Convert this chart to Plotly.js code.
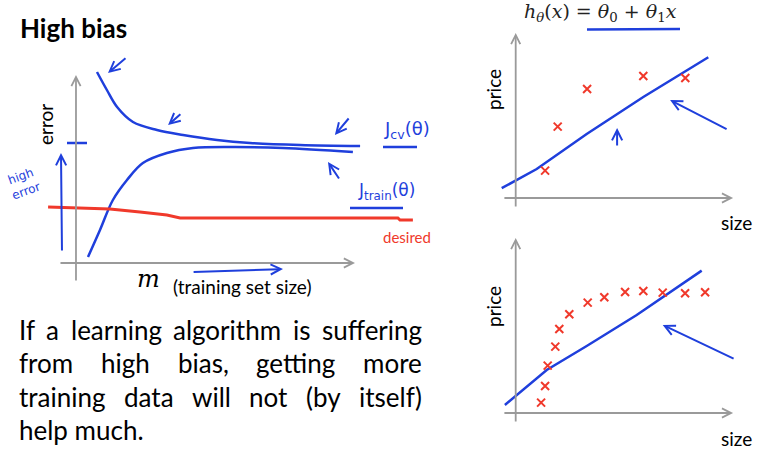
<!DOCTYPE html>
<html>
<head>
<meta charset="utf-8">
<script src="https://cdn.plot.ly/plotly-3.0.1.min.js"></script>
<style>
  html, body { margin:0; padding:0; background:#fff; }
  #chart { width:765px; height:451px; }
</style>
</head>
<body>
<div id="chart"></div>
<script>

/* ==========================================
   DATA
========================================== */

// learning curves (m = training set size, error)
const cvM       = [7, 10.3, 13.7, 19, 27, 35.7, 47, 58, 74.7, 94.7];
const cvErr     = [95.5, 86.5, 78, 70.5, 66.5, 64, 61.5, 60, 59, 58.5];
const trainM    = [4, 8, 12.3, 17, 22.3, 30.3, 39, 52.3, 69, 92.3];
const trainErr  = [3, 16.5, 31.5, 41.5, 50, 55, 57.5, 58, 57.5, 55.5];
const desiredM   = [-9.3, 0.3, 11.3, 21.3, 30.3, 34.7, 107.3, 108, 112.3];
const desiredErr = [28, 27.5, 27, 25.5, 24, 22.5, 22.5, 21.5, 21.5];

// few training examples
const sizeA     = [1.47, 2.1, 3.57, 6.38, 8.48];
const priceA    = [1.37, 3.57, 5.45, 6.1, 6.0];
const fitSizeA  = [-0.7, 1.05, 3.55, 6.38, 9.63];
const fitPriceA = [0.49, 1.45, 3.2, 5.05, 7.04];

// many training examples
const sizeB     = [1.27, 1.47, 1.6, 1.98, 2.18, 2.68, 3.6, 4.43, 5.47, 6.38, 7.35, 8.47, 9.47];
const priceB    = [0.52, 1.35, 2.37, 3.32, 4.2, 4.94, 5.52, 5.79, 6.05, 6.1, 6.02, 5.99, 6.04];
const fitSizeB  = [-0.54, 1.55, 3.55, 6.05, 9.3];
const fitPriceB = [0.4, 2.15, 3.35, 4.9, 7.12];

const paragraph = [
    "If a learning algorithm is suffering",
    "from high bias, getting more",
    "training data will not (by itself)",
    "help much."
];

/* ==========================================
   STYLE
========================================== */

const W = 765, H = 451;
const BLUE = "#1f3fdc";
const RED = "#f0392b";
const GRAY = "#9a9a9a";
const FONT = "Lato, 'Open Sans', sans-serif";
const HAND = "DejaVu Sans";

function px(x){ return x / W; }
function py(y){ return 1 - y / H; }

/* ==========================================
   TRACES
========================================== */

const traces = [
    { x:cvM, y:cvErr, xaxis:"x", yaxis:"y", mode:"lines",
      line:{color:BLUE, width:2.5, shape:"spline", smoothing:1} },
    { x:trainM, y:trainErr, xaxis:"x", yaxis:"y", mode:"lines",
      line:{color:BLUE, width:2.5, shape:"spline", smoothing:1} },
    { x:desiredM, y:desiredErr, xaxis:"x", yaxis:"y", mode:"lines",
      line:{color:RED, width:3} },

    { x:fitSizeA, y:fitPriceA, xaxis:"x2", yaxis:"y2", mode:"lines",
      line:{color:BLUE, width:2.5} },
    { x:sizeA, y:priceA, xaxis:"x2", yaxis:"y2", mode:"markers",
      marker:{symbol:"x-thin", size:8, line:{color:RED, width:2}} },

    { x:fitSizeB, y:fitPriceB, xaxis:"x3", yaxis:"y3", mode:"lines",
      line:{color:BLUE, width:2.5} },
    { x:sizeB, y:priceB, xaxis:"x3", yaxis:"y3", mode:"markers",
      marker:{symbol:"x-thin", size:8, line:{color:RED, width:2}} }
];

/* ==========================================
   ANNOTATIONS
========================================== */

function arrow(ref, x, y, ax, ay, color, width){
    const n = ref === 1 ? "" : ref;
    return {
        xref:"x"+n, yref:"y"+n, axref:"x"+n, ayref:"y"+n,
        x:x, y:y, ax:ax, ay:ay, text:"", showarrow:true,
        arrowhead:5, arrowsize:1, arrowwidth:width, arrowcolor:color
    };
}

function label(x, y, text, size, opts){
    return Object.assign({
        xref:"paper", yref:"paper", x:px(x), y:py(y),
        text:text, showarrow:false,
        font:{family:FONT, size:size, color:"#000"},
        xanchor:"center", yanchor:"middle"
    }, opts || {});
}

const annotations = [
    // axes (gray arrows)
    arrow(1, 93, 0, -5.67, 0, GRAY, 1.8),
    arrow(1, 0, 94, 0, -9.5, GRAY, 1.8),
    arrow(2, 10.87, 0, -0.64, 0, GRAY, 1.8),
    arrow(2, 0, 8.25, 0, -0.5, GRAY, 1.8),
    arrow(3, 10.87, 0, -0.64, 0, GRAY, 1.8),
    arrow(3, 0, 8.75, 0, -0.5, GRAY, 1.8),

    // hand drawn arrows, left
    arrow(1, 10.67, 95, 17, 103, BLUE, 2),
    arrow(1, 30.7, 69, 35.3, 75, BLUE, 2),
    arrow(1, 86.3, 64, 91.3, 73, BLUE, 2),
    arrow(1, 84, 50.5, 88, 41.5, BLUE, 2),
    arrow(1, -5, 55, -4.67, 5.5, BLUE, 2),
    arrow(1, 69, -3, 38.7, -4.5, BLUE, 2),

    // hand drawn arrows, right
    arrow(2, 5.07, 3.5, 5.07, 2.55, BLUE, 2),
    arrow(2, 7.72, 4.9, 10.62, 3.4, BLUE, 2),
    arrow(3, 7.35, 4.4, 10.97, 2.68, BLUE, 2),

    // texts
    label(18, 28, "<b>High bias</b>", 26, {xanchor:"left"}),
    label(46, 125, "error", 19, {textangle:-90}),
    label(23, 184, "high<br>error", 12, {textangle:-20, font:{family:HAND, size:12, color:BLUE}}),
    label(407, 130, "J<sub>cv</sub>(θ)", 18, {font:{family:HAND, size:18, color:BLUE}}),
    label(386, 191, "J<sub>train</sub>(θ)", 18, {font:{family:HAND, size:17, color:BLUE}}),
    label(407, 237, "desired", 15, {font:{family:FONT, size:15, color:RED}}),
    label(148, 279, "<i>m</i>", 24, {font:{family:"DejaVu Serif", size:24, color:"#000"}}),
    label(242, 286, "(training set size)", 19),

    label(600, 13, "<i>h</i><sub><i>θ</i></sub>(<i>x</i>) = <i>θ</i><sub>0</sub> + <i>θ</i><sub>1</sub><i>x</i>", 19,
          {font:{family:"DejaVu Serif", size:19, color:"#222"}}),
    label(493, 90, "price", 19, {textangle:-90}),
    label(736, 223, "size", 19),
    label(493, 307, "price", 19, {textangle:-90}),
    label(736, 438, "size", 19)
];

/* ==========================================
   JUSTIFIED PARAGRAPH
========================================== */

const PAR_LEFT = 18, PAR_RIGHT = 421;
const PAR_TOP = 330, PAR_STEP = 33.3;

const ctx = document.createElement("canvas").getContext("2d");

// pick the size that makes the first line fill the column with plain spaces
ctx.font = "20px Lato";
const parSize = Math.min(26, 20 * (PAR_RIGHT - PAR_LEFT) / ctx.measureText(paragraph[0]).width);
ctx.font = parSize + "px Lato";

paragraph.forEach((line, i)=>{

    const y = PAR_TOP + i * PAR_STEP;
    const last = i === paragraph.length - 1;

    if(last){
        annotations.push(label(PAR_LEFT, y, line, parSize, {xanchor:"left", borderpad:0}));
        return;
    }

    const words = line.split(" ");
    const widths = words.map(w=>ctx.measureText(w).width);
    const total = widths.reduce((a,b)=>a+b, 0);
    const gap = (PAR_RIGHT - PAR_LEFT - total) / (words.length - 1);

    let x = PAR_LEFT;
    words.forEach((w, k)=>{
        annotations.push(label(x, y, w, parSize, {xanchor:"left", borderpad:0}));
        x += widths[k] + gap;
    });

});

/* ==========================================
   SHAPES (hand drawn strokes)
========================================== */

const shapes = [
    { type:"line", xref:"x", yref:"y", x0:-3, x1:3.67, y0:60, y1:60,
      line:{color:BLUE, width:2.5} },
    { type:"line", xref:"paper", yref:"paper", x0:px(383), x1:px(417), y0:py(147), y1:py(147),
      line:{color:BLUE, width:2.5} },
    { type:"line", xref:"paper", yref:"paper", x0:px(350), x1:px(403), y0:py(208), y1:py(208),
      line:{color:BLUE, width:2.5} },
    { type:"line", xref:"paper", yref:"paper", x0:px(587), x1:px(680), y0:py(29.5), y1:py(29),
      line:{color:BLUE, width:2.5} }
];

/* ==========================================
   LAYOUT
========================================== */

const hidden = {visible:false, showgrid:false, zeroline:false, fixedrange:true};

const layout = {
    width:W, height:H,
    margin:{l:0, r:0, t:0, b:0},
    paper_bgcolor:"#fff",
    plot_bgcolor:"rgba(0,0,0,0)",
    showlegend:false,
    font:{family:FONT},

    xaxis:  Object.assign({domain:[px(45), px(420)], range:[-10.33, 114.67]}, hidden),
    yaxis:  Object.assign({domain:[py(290), py(60)], range:[-13.5, 101.5]}, hidden),

    xaxis2: Object.assign({domain:[px(495.7), px(735.7)], range:[-1, 11], anchor:"y2"}, hidden),
    yaxis2: Object.assign({domain:[py(210), py(30)], range:[-0.6, 8.4], anchor:"x2"}, hidden),

    xaxis3: Object.assign({domain:[px(495.7), px(735.7)], range:[-1, 11], anchor:"y3"}, hidden),
    yaxis3: Object.assign({domain:[py(425), py(235)], range:[-0.6, 8.9], anchor:"x3"}, hidden),

    annotations:annotations,
    shapes:shapes
};

Plotly.newPlot("chart", traces, layout, {staticPlot:true, displayModeBar:false});

</script>
</body>
</html>
